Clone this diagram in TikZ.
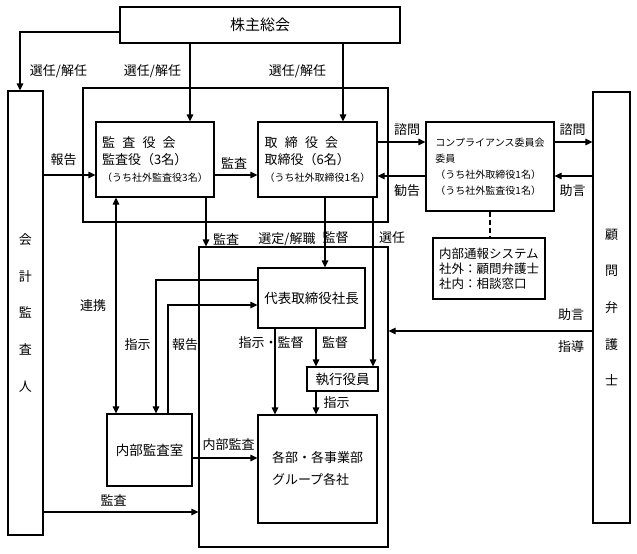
\documentclass[tikz,border=0pt]{standalone}
\usepackage{fontspec}
\setmainfont{Noto Sans CJK JP}
\usetikzlibrary{arrows.meta}

\begin{document}
\begin{tikzpicture}[x=1pt,y=-1pt,line width=1.2pt,
  box/.style={draw,black,inner sep=0pt,font=\fontsize{13}{17}\selectfont},
  vbox/.style={draw,black,inner sep=0pt,align=center,font=\fontsize{13}{36.6}\selectfont},
  lbl/.style={inner sep=0pt,font=\fontsize{13}{15}\selectfont},
  arr/.style={-{Triangle[length=7pt,width=6.5pt]}},
  dbl/.style={{Triangle[length=7pt,width=6.5pt]}-{Triangle[length=7pt,width=6.5pt]}}]
  \useasboundingbox (0,0) rectangle (637,554);

  \node[box,minimum width=280pt,minimum height=36pt,font=\fontsize{15}{17}\selectfont] (kabu) at (260,25) {株主総会};
  \node[vbox,minimum width=35pt,minimum height=444pt] (kaikei) at (25.5,313) {会\\計\\監\\査\\人};
  \node[vbox,minimum width=37pt,minimum height=431pt] (komon) at (611.5,307.5) {顧\\問\\弁\\護\\士};
  \node[box,minimum width=305pt,minimum height=134pt] (bdframe) at (235.5,155) {};
  \node[box,minimum width=189pt,minimum height=300pt] (exframe) at (293.5,397) {};
  \node[box,fill=white,minimum width=118pt,minimum height=75pt,align=left] (kansa) at (155,159.5)
    {監\hspace{0.55em}査\hspace{0.55em}役\hspace{0.55em}会\\監査役（3名）\\{\fontsize{10}{12}\selectfont（うち社外監査役3名）}};
  \node[box,fill=white,minimum width=119pt,minimum height=75pt,align=left] (torishimari) at (317.5,159.5)
    {取\hspace{0.55em}締\hspace{0.55em}役\hspace{0.55em}会\\取締役（6名）\\{\fontsize{10}{12}\selectfont（うち社外取締役1名）}};
  \node[box,minimum width=128pt,minimum height=89pt,align=left,font=\fontsize{10}{16}\selectfont] (comp) at (490,166.5)
    {コンプライアンス委員会\\委員\\（うち社外取締役1名）\\（うち社外監査役1名）};
  \node[box,minimum width=112pt,minimum height=61pt,align=left,font=\fontsize{12.5}{15}\selectfont] (tsuho) at (489,268.5)
    {内部通報システム\\社外：顧問弁護士\\社内：相談窓口};
  \node[box,fill=white,minimum width=107pt,minimum height=60pt,font=\fontsize{13.5}{17}\selectfont] (daihyo) at (311.5,298) {代表取締役社長};
  \node[box,fill=white,minimum width=71pt,minimum height=24pt,font=\fontsize{13.5}{17}\selectfont] (shikko) at (342.5,379) {執行役員};
  \node[box,fill=white,minimum width=119pt,minimum height=108pt,align=left,font=\fontsize{13}{22}\selectfont] (kakubu) at (317.5,469)
    {各部・各事業部\\グループ各社};
  \node[box,fill=white,minimum width=85pt,minimum height=72pt,font=\fontsize{13.5}{17}\selectfont] (naibu) at (149.5,450) {内部監査室};

  \draw[arr] (kabu.west |- 0,32) -| (kaikei.north -| 20,0);
  \draw[arr] (kabu.south -| 190,0) -- (kansa.north -| 190,0);
  \draw[arr] (kabu.south -| 343,0) -- (torishimari.north -| 343,0);
  \draw[arr] (kaikei.east |- 0,175) -- (kansa.west |- 0,175);
  \draw[arr] (kansa.east |- 0,175) -- (torishimari.west |- 0,175);
  \draw[arr] (torishimari.east |- 0,142) -- (comp.west |- 0,142);
  \draw[arr] (comp.west |- 0,176) -- (torishimari.east |- 0,176);
  \draw[arr] (comp.east |- 0,142) -- (komon.west |- 0,142);
  \draw[arr] (komon.west |- 0,176) -- (comp.east |- 0,176);
  \draw[dash pattern=on 5pt off 3pt] (comp.south) -- (comp.south |- tsuho.north);
  \draw[arr] (kansa.south -| 206,0) -- (exframe.north -| 206,0);
  \draw[arr] (torishimari.south -| 325,0) -- (daihyo.north -| 325,0);
  \draw[arr] (torishimari.south -| 373,0) -- (shikko.north -| 373,0);
  \draw[dbl] (kansa.south -| 116,0) -- (naibu.north -| 116,0);
  \draw[arr] (daihyo.west |- 0,280) -| (naibu.north -| 156,0);
  \draw[arr] (naibu.north -| 168,0) |- (daihyo.west |- 0,305);
  \draw[arr] (daihyo.south -| 275,0) -- (kakubu.north -| 275,0);
  \draw[arr] (daihyo.south -| 316,0) -- (shikko.north -| 316,0);
  \draw[arr] (shikko.south -| 316,0) -- (kakubu.north -| 316,0);
  \draw[arr] (naibu.east |- 0,458) -- (kakubu.west |- 0,458);
  \draw[arr] (kaikei.east |- 0,512) -- (exframe.west |- 0,512);
  \draw[arr] (komon.west |- 0,331) -- (exframe.east |- 0,331);

  \node[lbl] (sennin1) at (58.5,71) {選任/解任};
  \node[lbl] (sennin2) at (152.5,71) {選任/解任};
  \node[lbl] (sennin3) at (297.5,71) {選任/解任};
  \node[lbl] (hokoku1) at (63.5,160) {報告};
  \node[lbl] (kansa1) at (234,163) {監査};
  \node[lbl] (shimon1) at (407,130) {諮問};
  \node[lbl] (kankoku) at (407,191) {勧告};
  \node[lbl] (shimon2) at (572.5,130) {諮問};
  \node[lbl] (jogen1) at (572.5,191) {助言};
  \node[lbl] (kansa2) at (226,239) {監査};
  \node[lbl] (sentei) at (287,239) {選定/解職};
  \node[lbl] (kantoku1) at (335.5,238) {監督};
  \node[lbl] (sennin4) at (392,238) {選任};
  \node[lbl] (renkei) at (93,306) {連携};
  \node[lbl] (shiji1) at (137.5,345) {指示};
  \node[lbl] (hokoku2) at (185,345) {報告};
  \node[lbl] (shijikan) at (271,343) {指示・監督};
  \node[lbl] (kantoku2) at (335,343) {監督};
  \node[lbl] (shiji2) at (336.5,403) {指示};
  \node[lbl] (naibukansa) at (228.5,445) {内部監査};
  \node[lbl] (kansa3) at (113.5,500) {監査};
  \node[lbl] (jogen2) at (571,315) {助言};
  \node[lbl] (shido) at (571,347) {指導};
\end{tikzpicture}
\end{document}
